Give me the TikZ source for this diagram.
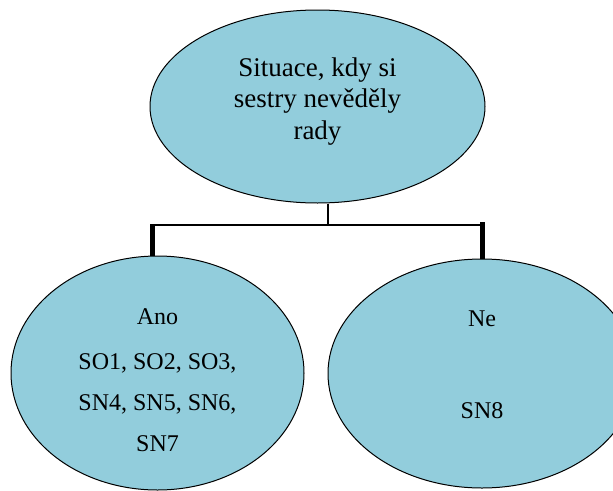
\documentclass[tikz,border=0pt]{standalone}
\usepackage{fontspec}
\setmainfont{Liberation Serif}
\usetikzlibrary{shapes.geometric}
\definecolor{bubble}{RGB}{146,205,220}
\tikzset{
  topic/.style={
    ellipse,
    draw=black,
    line width=1pt,
    fill=bubble,
    inner sep=0pt,
    align=center,
  },
  big text/.style={font=\fontsize{27}{31.5}\selectfont},
  small text/.style={font=\fontsize{24}{41}\selectfont},
  link line/.style={line width=1.5pt},
  leg line/.style={line width=5pt},
}

\begin{document}
\begin{tikzpicture}[x=1pt,y=-1pt]
  \clip (0,0) rectangle (613,490);
  \node[topic,big text,minimum width=335pt,minimum height=193pt] (sit) at (317.5,106.5) {Situace, kdy si\\sestry nevěděly\\rady\\[-15.5pt]\mbox{}};
  \node[topic,small text,minimum width=293pt,minimum height=234pt] (ano) at (157.5,373) {\mbox{}\\[-10.5pt]Ano\\[4pt]SO1, SO2, SO3,\\SN4, SN5, SN6,\\SN7};
  \node[topic,small text,minimum width=308pt,minimum height=229pt] (ne) at (482,373.5) {Ne\\[51pt]SN8\\[-23pt]\mbox{}};

  \coordinate (split) at (328,225);
  \coordinate (lfoot) at (152,225);
  \coordinate (rfoot) at (482,225);

  \draw[link line] (sit.south -| split) -- (split);
  \draw[link line] ([xshift=-2pt]lfoot) -- ([xshift=1pt]rfoot);
  \draw[leg line] (lfoot) -- (ano.north -| lfoot);
  \draw[leg line] ([yshift=3pt]rfoot) -- (ne.north);
\end{tikzpicture}
\end{document}
